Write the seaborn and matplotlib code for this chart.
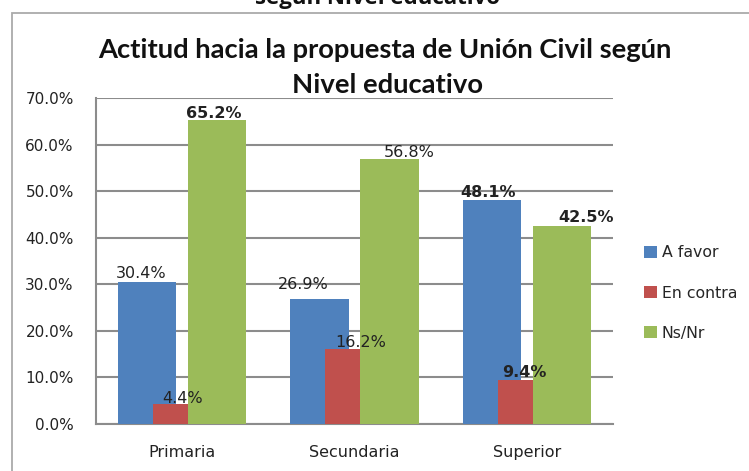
import numpy as np
import pandas as pd
import matplotlib
matplotlib.use("Agg")
import matplotlib.pyplot as plt
from matplotlib.patches import Rectangle, Patch
from matplotlib.ticker import PercentFormatter
import seaborn as sns

# ---- data ----
categorias = ["Primaria", "Secundaria", "Superior"]
series = ["A favor", "En contra", "Ns/Nr"]
a_favor = [30.4, 26.9, 48.1]
en_contra = [4.4, 16.2, 9.4]
ns_nr = [65.2, 56.8, 42.5]
titulo_l1 = "Actitud hacia la propuesta de Unión Civil según"
titulo_l2 = "Nivel educativo"
titulo_cortado = "según Nivel educativo"

# ---- style ----
colores = ["#4F81BD", "#C0504D", "#9BBB59"]
sns.set_theme(style="white")
plt.rcParams["font.family"] = ["DejaVu Sans"]

valores = [a_favor, en_contra, ns_nr]
# label offsets (px) relative to bar center / top, and weights
label_dx = [[-6, -16, -4], [0, 6, -3], [-3, 20, 24]]
label_dy = [[9, 14, 7], [5, 6, 8], [7, 7, 9]]
label_bold = [[False, False, True], [False, False, True], [True, False, True]]

fig = plt.figure(figsize=(7.49, 4.71), dpi=100)
ax = fig.add_axes([96 / 749, 1 - 424 / 471, (613 - 96) / 749, (424 - 98) / 471])

pos = np.arange(len(categorias))
offsets = [-0.203, 0.0, 0.203]
for i, (serie, vals) in enumerate(zip(series, valores)):
    df = pd.DataFrame({"x": pos + offsets[i], "y": vals})
    sns.barplot(data=df, x="x", y="y", native_scale=True, width=0.337,
                color=colores[i], saturation=1, ax=ax, zorder=3 + i,
                edgecolor="none", linewidth=0)

ax.set_xlim(-0.5, 2.5)
ax.set_ylim(0, 70)
ax.set_yticks(np.arange(0, 71, 10))
ax.yaxis.set_major_formatter(PercentFormatter(decimals=1))
ax.set_xticks(pos)
ax.set_xticklabels(categorias)
ax.set_xlabel("")
ax.set_ylabel("")
ax.grid(axis="y", color="#8c8c8c", linewidth=1.5, zorder=0)
ax.set_axisbelow(True)
for s in ["top", "right"]:
    ax.spines[s].set_visible(False)
for s in ["left", "bottom"]:
    ax.spines[s].set_color("#8c8c8c")
    ax.spines[s].set_linewidth(1.5)
ax.tick_params(axis="y", length=0, pad=16, labelsize=11, labelcolor="#222222")
ax.tick_params(axis="x", length=0, pad=15, labelsize=11.5, labelcolor="#222222")

# data labels
for i, vals in enumerate(valores):
    for j, v in enumerate(vals):
        ax.annotate(f"{v:.1f}%", xy=(pos[j] + offsets[i], v),
                    xytext=(label_dx[i][j] * 0.72, label_dy[i][j] * 0.72),
                    textcoords="offset points", ha="center", va="center",
                    fontsize=11.5, color="#222222",
                    fontweight="bold" if label_bold[i][j] else "normal",
                    zorder=10)

# legend
handles = [Patch(facecolor=c, edgecolor="none") for c in colores]
fig.legend(handles, series, loc="center left",
           bbox_to_anchor=(638 / 749, 1 - 293 / 471), frameon=False,
           fontsize=11.3, handlelength=0.8, handleheight=0.8,
           handletextpad=0.3, labelspacing=1.6, borderaxespad=0)

# chart frame
fig.add_artist(Rectangle((12 / 749, -0.05), 1.0, 1 - 13 / 471 + 0.05,
                         transform=fig.transFigure, fill=False,
                         edgecolor="#aaaaaa", linewidth=1.3))

# titles
fig.text(385 / 749, 1 - 50 / 471, titulo_l1, ha="center", va="center",
         fontsize=19.7, fontweight="bold", family=["Lato", "DejaVu Sans"],
         color="#111111")
fig.text(387 / 749, 1 - 85 / 471, titulo_l2, ha="center", va="center",
         fontsize=19.7, fontweight="bold", family=["Lato", "DejaVu Sans"],
         color="#111111")
fig.text(378 / 749, 1 - 4 / 471, titulo_cortado, ha="center", va="baseline",
         fontsize=16, fontweight="bold", family=["Open Sans", "DejaVu Sans"],
         color="#111111")

fig.savefig("out.png", dpi=100)
